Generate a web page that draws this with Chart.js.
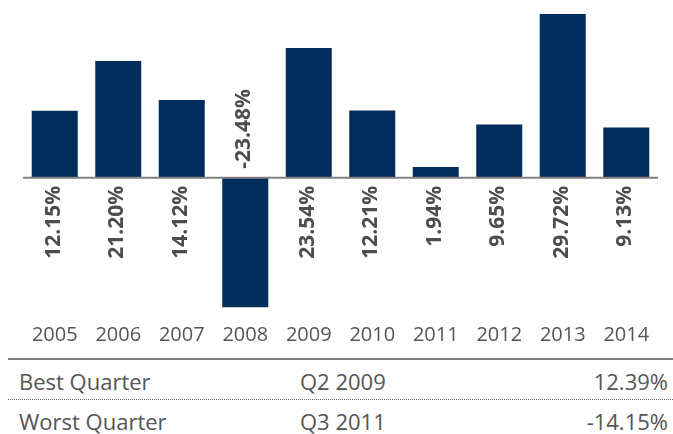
<!DOCTYPE html>
<html>
<head>
<meta charset="utf-8">
<script src="https://cdn.jsdelivr.net/npm/chart.js@4.4.1/dist/chart.umd.min.js"></script>
<style>
  body { margin: 0; background: #fff; }
  #wrap { position: relative; width: 673px; height: 434px; overflow: hidden; font-family: "Open Sans", sans-serif; color: #555; }
  #myChart { position: absolute; left: 0; top: 0; }
  .rule { position: absolute; left: 8px; right: 0; }
  .solid { top: 358px; height: 2px; background: #808080; }
  .dotted { top: 399px; border-top: 1px dotted #666; }
  .cell { position: absolute; font-size: 22px; line-height: 28px; height: 28px; white-space: nowrap; }
</style>
</head>
<body>
<div id="wrap">
  <canvas id="myChart" width="673" height="364"></canvas>
  <div class="rule solid"></div>
  <div class="rule dotted"></div>
  <div id="table"></div>
</div>
<script>
const years = ["2005", "2006", "2007", "2008", "2009", "2010", "2011", "2012", "2013", "2014"];
const annualReturns = [12.15, 21.20, 14.12, -23.48, 23.54, 12.21, 1.94, 9.65, 29.72, 9.13];

const quarterNames = ["Best Quarter", "Worst Quarter"];
const quarterPeriods = ["Q2 2009", "Q3 2011"];
const quarterReturns = [12.39, -14.15];

// zero line + rotated value labels
const valueLabels = {
  id: "valueLabels",
  afterDatasetsDraw(chart) {
    const { ctx, chartArea, scales } = chart;
    const y0 = scales.y.getPixelForValue(0);
    ctx.save();
    ctx.strokeStyle = "#808080";
    ctx.lineWidth = 2;
    ctx.beginPath();
    ctx.moveTo(chartArea.left, y0);
    ctx.lineTo(chartArea.right, y0);
    ctx.stroke();

    ctx.fillStyle = "#4d4d4d";
    ctx.font = "bold 21px 'Open Sans'";
    ctx.textBaseline = "middle";
    chart.getDatasetMeta(0).data.forEach((bar, i) => {
      const v = annualReturns[i];
      ctx.save();
      if (v >= 0) {
        ctx.translate(bar.x - 1, y0 + 8);
        ctx.rotate(-Math.PI / 2);
        ctx.textAlign = "right";
      } else {
        ctx.translate(bar.x - 1, y0 - 9);
        ctx.rotate(-Math.PI / 2);
        ctx.textAlign = "left";
      }
      ctx.fillText(v.toFixed(2) + "%", 0, 0);
      ctx.restore();
    });
    ctx.restore();
  }
};

const ctx = document.getElementById("myChart").getContext("2d");

const myChart = new Chart(ctx, {
  type: "bar",
  data: {
    labels: years,
    datasets: [{
      data: annualReturns,
      backgroundColor: "#032d5c",
      borderWidth: 0,
      categoryPercentage: 1,
      barPercentage: 0.725,
    }]
  },
  options: {
    responsive: false,
    animation: false,
    layout: { padding: { left: 23, right: 15, top: 1.5, bottom: 4 } },
    scales: {
      x: {
        grid: { display: false, drawTicks: false },
        border: { display: false },
        ticks: {
          color: "#555",
          font: { family: "'Open Sans'", size: 20 },
          padding: 13,
          maxRotation: 0,
          autoSkip: false
        }
      },
      y: {
        display: false,
        min: -24,
        max: 32
      }
    },
    plugins: {
      legend: { display: false },
      tooltip: { enabled: false }
    }
  },
  plugins: [valueLabels]
});

// table under the chart
const rowCenters = [381, 421];
const table = document.getElementById("table");
quarterNames.forEach((name, i) => {
  const top = rowCenters[i] - 14;
  const ret = quarterReturns[i].toFixed(2) + "%";
  table.insertAdjacentHTML("beforeend",
    `<div class="cell" style="left:19px;top:${top}px">${name}</div>` +
    `<div class="cell" style="left:300px;top:${top}px">${quarterPeriods[i]}</div>` +
    `<div class="cell" style="right:5px;top:${top}px">${ret}</div>`);
});
</script>
</body>
</html>
